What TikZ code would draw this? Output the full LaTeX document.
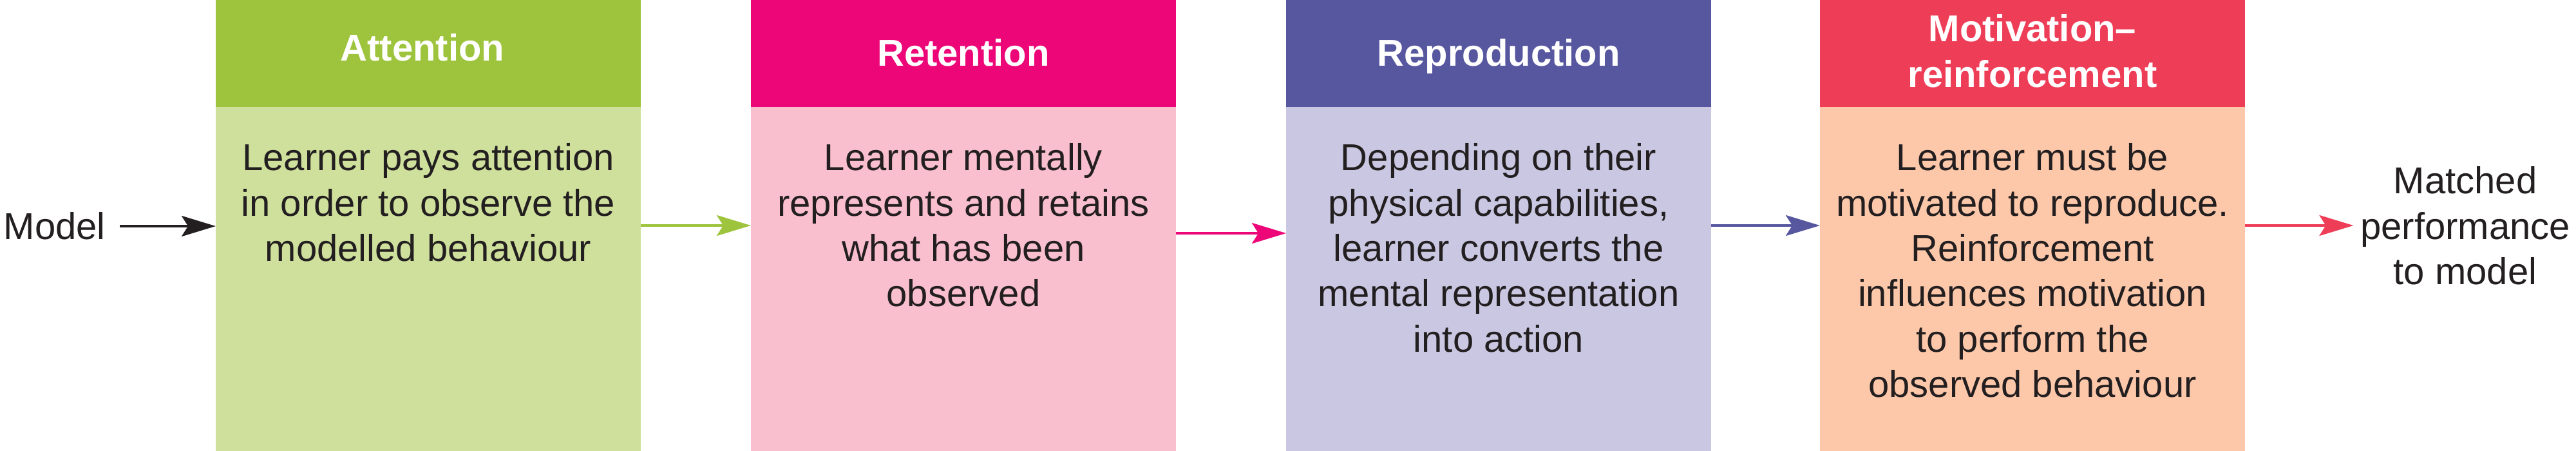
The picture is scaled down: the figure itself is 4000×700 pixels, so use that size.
\documentclass[tikz,border=0pt]{standalone}
\usepackage{fontspec}
\setmainfont{Liberation Sans}
\usetikzlibrary{arrows.meta,calc}
\definecolor{ink}{HTML}{231F20}
\definecolor{gH}{HTML}{9DC43C}
\definecolor{gB}{HTML}{CEE09C}
\definecolor{pH}{HTML}{EC0677}
\definecolor{pB}{HTML}{F9BFCE}
\definecolor{bH}{HTML}{5757A0}
\definecolor{bB}{HTML}{C9C7E1}
\definecolor{rH}{HTML}{EE3D57}
\definecolor{rB}{HTML}{FDC8AA}
\begin{document}
\begin{tikzpicture}[x=0.01cm,y=-0.01cm,
  hdr/.style={draw=none, anchor=north west, minimum width=6.6cm, minimum height=1.67cm, inner sep=0, outer sep=0},
  bod/.style={draw=none, anchor=north west, minimum width=6.6cm, minimum height=5.34cm, inner sep=0, outer sep=0},
  htext/.style={text=white, font=\fontsize{16.5pt}{20pt}\selectfont\bfseries, align=center, inner sep=0},
  btext/.style={text=ink, font=\fontsize{16.5pt}{20pt}\selectfont, align=center, inner sep=0, anchor=north},
  conn/.style={line width=0.035cm, -{Stealth[length=0.53cm, width=0.32cm, inset=0.1cm]}}]
\useasboundingbox (0,0) rectangle (4000,700);
\fill[white] (0,0) rectangle (4000,700);
% boxes
\node[hdr, fill=gH] (h1) at (335,0) {};
\node[bod, fill=gB] (b1) at (335,166) {};
\node[hdr, fill=pH] (h2) at (1166,0) {};
\node[bod, fill=pB] (b2) at (1166,166) {};
\node[hdr, fill=bH] (h3) at (1997,0) {};
\node[bod, fill=bB] (b3) at (1997,166) {};
\node[hdr, fill=rH] (h4) at (2826,0) {};
\node[bod, fill=rB] (b4) at (2826,166) {};
% header texts
\node[htext, anchor=base] (t1) at (656,94) {Attention};
\node[htext, anchor=base] (t2) at (1496,102) {Retention};
\node[htext, anchor=base] (t3) at (2327,102) {Reproduction};
\node[htext, anchor=north] (t4) at (3156,22) {Motivation–\\reinforcement};
% body texts
\node[btext] (d1) at (665,222) {Learner pays attention\\in order to observe the\\modelled behaviour};
\node[btext] (d2) at (1496,222) {Learner mentally\\represents and retains\\what has been\\observed};
\node[btext] (d3) at (2327,222) {Depending on their\\physical capabilities,\\learner converts the\\mental representation\\into action};
\node[btext] (d4) at (3156,222) {Learner must be\\motivated to reproduce.\\Reinforcement\\influences motivation\\to perform the\\observed behaviour};
% side texts
\node[text=ink, font=\fontsize{16.5pt}{20pt}\selectfont, anchor=west, inner sep=0] (model) at (5,351) {Model};
\node[text=ink, font=\fontsize{16.5pt}{20pt}\selectfont, align=center, anchor=north, inner xsep=0.1cm, inner ysep=0] (matched) at (3828,258) {Matched\\performance\\to model};
% connectors
\coordinate (row) at (0,350);
\coordinate (pk) at (0,362);
\draw[conn, ink] ($(model.east)+(22,0)$) -- (b1.west |- model.east);
\draw[conn, gH] (b1.east |- row) -- (b2.west |- row);
\draw[conn, pH] (b2.east |- pk) -- (b3.west |- pk);
\draw[conn, bH] (b3.east |- row) -- (b4.west |- row);
\draw[conn, rH] (b4.east |- row) -- (matched.west |- row);
\end{tikzpicture}
\end{document}
